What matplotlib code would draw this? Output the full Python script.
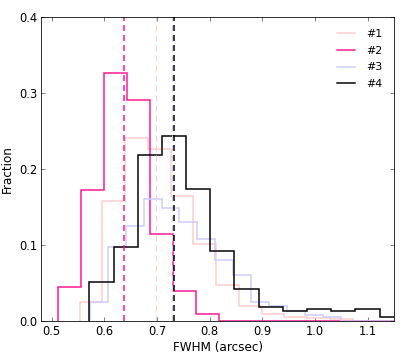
import numpy as np
import matplotlib
matplotlib.use('Agg')
import matplotlib.pyplot as plt
from matplotlib.lines import Line2D

# histogram fractions, one list per sample
labels = ['#1', '#2', '#3', '#4']

start1, width1 = 0.5532, 0.04316
frac1 = [0.025, 0.157, 0.241, 0.226, 0.164, 0.101, 0.047, 0.019, 0.008,
         0.004, 0.003, 0.002, 0.0, 0.0, 0.0]

start2, width2 = 0.5114, 0.04386
frac2 = [0.0446, 0.172, 0.327, 0.291, 0.114, 0.039, 0.009, 0.0, 0.0, 0.0,
         0.0, 0.0, 0.0, 0.0, 0.0]

start3, width3 = 0.5723, 0.03406
frac3 = [0.025, 0.097, 0.125, 0.160, 0.148, 0.130, 0.107, 0.080, 0.060,
         0.025, 0.019, 0.012, 0.007, 0.004, 0.0, 0.0, 0.0, 0.0]

start4, width4 = 0.5716, 0.04589
frac4 = [0.051, 0.097, 0.218, 0.244, 0.174, 0.092, 0.041, 0.018, 0.013,
         0.015, 0.013, 0.015, 0.004, 0.0, 0.0]

# median FWHM of each sample (dashed lines)
medians = [0.698, 0.638, 0.729, 0.732]

colors = [(1, 0.8, 0.8), '#ff1493', (0.8, 0.8, 1), 'k']
hist_lw = [1.5, 1.5, 1.5, 1.5]
med_lw = [1.0, 1.5, 1.0, 1.5]

plt.rcParams['font.family'] = 'DejaVu Sans'
plt.rcParams['font.size'] = 10
plt.rcParams['lines.scale_dashes'] = False

fig = plt.figure(figsize=(415 / 72., 356 / 72.), dpi=72)
ax = fig.add_axes([0.0988, 0.0997, 0.9501 - 0.0988, 0.9514 - 0.0997])

series = [(start1, width1, frac1), (start2, width2, frac2),
          (start3, width3, frac3), (start4, width4, frac4)]

for (start, width, frac), c, lw in zip(series, colors, hist_lw):
    edges = start + width * np.arange(len(frac) + 1)
    ax.hist(edges[:-1] + width / 2., bins=edges, weights=frac,
            histtype='step', color=c, linewidth=lw)

for m, c, lw in zip(medians, colors, med_lw):
    ax.axvline(m, color=c, linewidth=lw, dashes=(6, 4))

ax.set_xlim(0.48, 1.15)
ax.set_ylim(0, 0.4)
ax.set_xticks([0.5, 0.6, 0.7, 0.8, 0.9, 1.0, 1.1])
ax.set_yticks([0.0, 0.1, 0.2, 0.3, 0.4])
ax.tick_params(direction='in', top=True, right=True, length=4, width=0.5,
               pad=4, labelsize=11.5)
ax.set_xlabel('FWHM (arcsec)', fontsize=12, labelpad=3)
ax.set_ylabel('Fraction', fontsize=12, labelpad=5)

handles = [Line2D([], [], color=c, linewidth=lw)
           for c, lw in zip(colors, hist_lw)]
ax.legend(handles, labels, loc='upper right', frameon=False,
          handlelength=1.65, handletextpad=1.0, labelspacing=0.62,
          borderpad=0.4, borderaxespad=0.65, fontsize=11)

fig.savefig('out.png', dpi=72)
